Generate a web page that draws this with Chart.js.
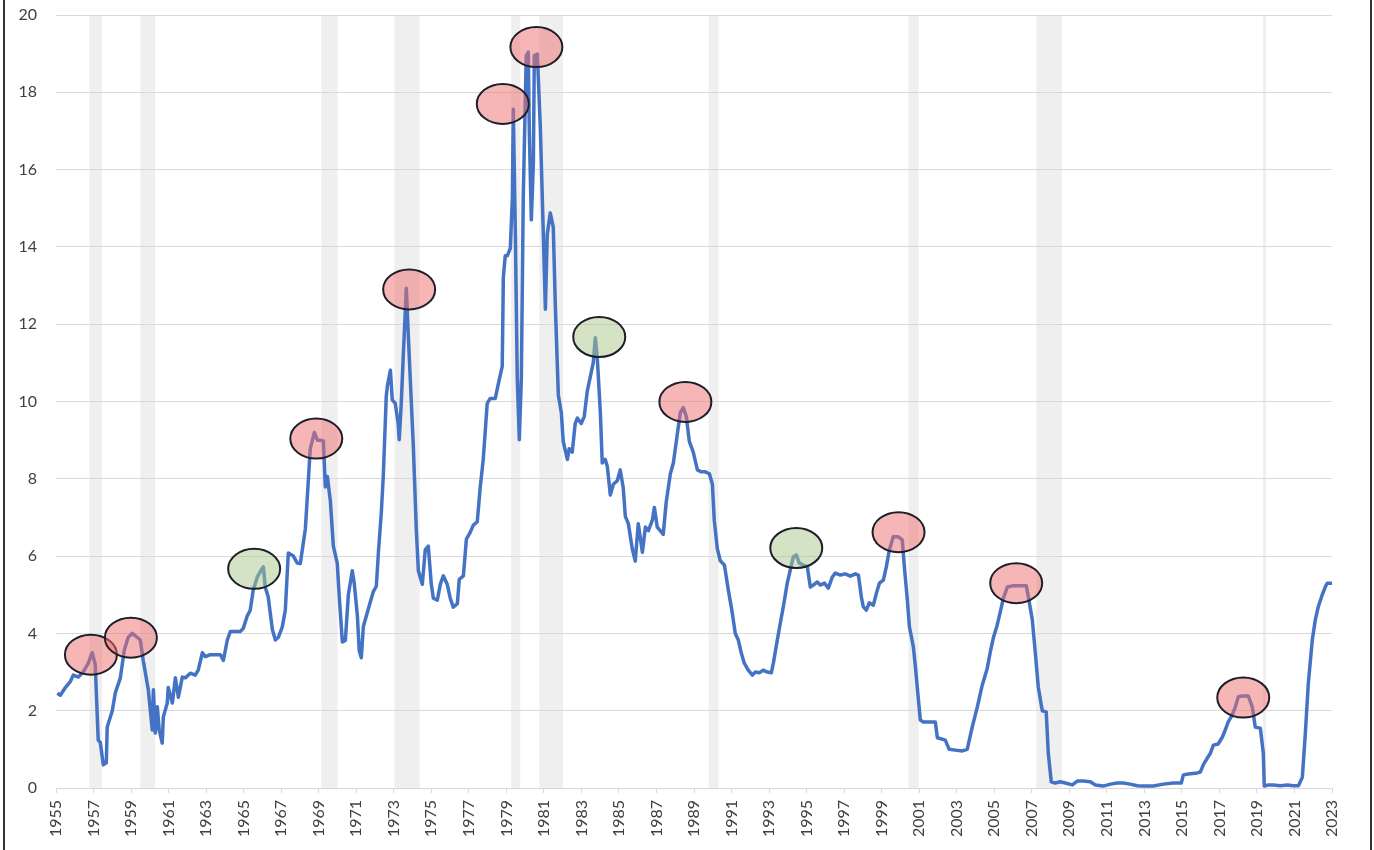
<!DOCTYPE html>
<html>
<head>
<meta charset="utf-8">
<script src="https://cdn.jsdelivr.net/npm/chart.js@4.4.1/dist/chart.umd.min.js"></script>
<style>
    html, body { margin: 0; padding: 0; background: #fff; }
    #wrap { position: relative; width: 1374px; height: 850px; overflow: hidden; }
    #frame {
        position: absolute; left: 3px; top: 0; width: 1365px; height: 850px;
        border-left: 2px solid #333; border-right: 2px solid #333;
        pointer-events: none;
    }
</style>
</head>
<body>
<div id="wrap">
    <canvas id="fedFunds" width="1374" height="850"></canvas>
    <div id="frame"></div>
</div>
<script>
// effective fed funds rate (x = year as drawn on the axis)
const dates = [
    1955.07, 1955.23, 1955.50, 1955.76, 1955.92, 1956.19, 1956.45, 1956.72, 1956.93, 1957.09,
    1957.25, 1957.36, 1957.52, 1957.68, 1957.73, 1958.00, 1958.16, 1958.43, 1958.64, 1958.85,
    1959.07, 1959.33, 1959.49, 1959.65, 1959.92, 1960.13, 1960.19, 1960.29, 1960.40, 1960.50,
    1960.66, 1960.72, 1960.93, 1960.98, 1961.20, 1961.36, 1961.52, 1961.73, 1961.89, 1962.16,
    1962.42, 1962.58, 1962.80, 1962.96, 1963.22, 1963.60, 1963.76, 1963.92, 1964.13, 1964.29,
    1964.56, 1964.82, 1964.98, 1965.19, 1965.35, 1965.51, 1965.73, 1965.89, 1966.05, 1966.15,
    1966.31, 1966.53, 1966.69, 1966.85, 1967.06, 1967.22, 1967.38, 1967.65, 1967.86, 1968.02,
    1968.29, 1968.55, 1968.77, 1968.93, 1969.09, 1969.25, 1969.35, 1969.46, 1969.62, 1969.78,
    1969.99, 1970.10, 1970.26, 1970.42, 1970.58, 1970.79, 1970.90, 1971.06, 1971.16, 1971.27,
    1971.38, 1971.59, 1971.75, 1971.91, 1972.07, 1972.18, 1972.34, 1972.44, 1972.60, 1972.66,
    1972.82, 1972.92, 1973.08, 1973.24, 1973.29, 1973.40, 1973.51, 1973.67, 1973.77, 1973.93,
    1974.04, 1974.20, 1974.31, 1974.52, 1974.68, 1974.84, 1975.00, 1975.11, 1975.32, 1975.48,
    1975.64, 1975.85, 1976.01, 1976.17, 1976.39, 1976.49, 1976.71, 1976.87, 1977.08, 1977.24,
    1977.45, 1977.61, 1977.77, 1977.98, 1978.14, 1978.41, 1978.57, 1978.78, 1978.84, 1978.94,
    1979.05, 1979.21, 1979.32, 1979.37, 1979.48, 1979.58, 1979.69, 1979.80, 1979.90, 1980.06,
    1980.17, 1980.22, 1980.33, 1980.44, 1980.49, 1980.65, 1980.81, 1980.97, 1981.08, 1981.18,
    1981.34, 1981.50, 1981.61, 1981.77, 1981.93, 1982.03, 1982.25, 1982.35, 1982.51, 1982.67,
    1982.78, 1982.99, 1983.15, 1983.31, 1983.47, 1983.63, 1983.74, 1983.85, 1984.01, 1984.11,
    1984.27, 1984.38, 1984.54, 1984.70, 1984.91, 1985.07, 1985.23, 1985.34, 1985.50, 1985.71,
    1985.87, 1986.03, 1986.25, 1986.41, 1986.57, 1986.78, 1986.89, 1987.04, 1987.20, 1987.36,
    1987.52, 1987.74, 1987.90, 1988.11, 1988.27, 1988.43, 1988.59, 1988.75, 1988.96, 1989.18,
    1989.39, 1989.60, 1989.82, 1989.98, 1990.08, 1990.24, 1990.40, 1990.62, 1990.83, 1991.04,
    1991.20, 1991.36, 1991.52, 1991.68, 1991.89, 1992.11, 1992.27, 1992.48, 1992.69, 1992.91,
    1993.12, 1993.23, 1993.44, 1993.60, 1993.76, 1993.97, 1994.13, 1994.29, 1994.45, 1994.61,
    1994.83, 1995.04, 1995.20, 1995.36, 1995.57, 1995.73, 1995.95, 1996.16, 1996.37, 1996.53,
    1996.80, 1997.06, 1997.33, 1997.60, 1997.76, 1997.92, 1998.02, 1998.18, 1998.34, 1998.56,
    1998.72, 1998.88, 1999.09, 1999.25, 1999.41, 1999.62, 1999.89, 2000.10, 2000.21, 2000.37,
    2000.48, 2000.69, 2000.80, 2000.96, 2001.06, 2001.22, 2001.86, 2001.97, 2002.39, 2002.60,
    2002.92, 2003.30, 2003.56, 2003.83, 2004.10, 2004.36, 2004.63, 2004.79, 2004.95, 2005.16,
    2005.32, 2005.48, 2005.70, 2005.96, 2006.71, 2006.82, 2007.03, 2007.19, 2007.35, 2007.56,
    2007.77, 2007.88, 2008.04, 2008.25, 2008.52, 2008.79, 2009.16, 2009.43, 2009.75, 2010.12,
    2010.39, 2010.81, 2011.19, 2011.56, 2011.88, 2012.25, 2012.62, 2012.94, 2013.48, 2014.01,
    2014.54, 2014.97, 2015.08, 2015.34, 2015.82, 2015.98, 2016.14, 2016.36, 2016.52, 2016.68,
    2016.94, 2017.16, 2017.31, 2017.47, 2017.69, 2017.85, 2018.01, 2018.22, 2018.54, 2018.75,
    2018.91, 2019.18, 2019.34, 2019.39, 2019.61, 2019.87, 2020.25, 2020.62, 2020.94, 2021.21,
    2021.42, 2021.58, 2021.74, 2021.95, 2022.11, 2022.27, 2022.48, 2022.64, 2022.75, 2023.00,
];
const rates = [
    2.45, 2.40, 2.60, 2.75, 2.92, 2.87, 3.00, 3.23, 3.50, 3.20,
    1.24, 1.18, 0.60, 0.65, 1.58, 2.00, 2.46, 2.85, 3.57, 3.90,
    4.00, 3.90, 3.83, 3.30, 2.54, 1.50, 2.54, 1.42, 2.10, 1.50,
    1.16, 1.84, 2.20, 2.60, 2.20, 2.85, 2.35, 2.87, 2.85, 2.97,
    2.92, 3.05, 3.50, 3.40, 3.45, 3.45, 3.45, 3.30, 3.83, 4.05,
    4.05, 4.05, 4.13, 4.45, 4.60, 5.12, 5.46, 5.60, 5.72, 5.20,
    4.94, 4.10, 3.83, 3.90, 4.17, 4.60, 6.08, 6.00, 5.82, 5.81,
    6.71, 8.78, 9.20, 9.00, 9.00, 8.98, 7.79, 8.06, 7.43, 6.26,
    5.81, 4.91, 3.78, 3.82, 5.00, 5.62, 5.27, 4.46, 3.55, 3.37,
    4.18, 4.54, 4.81, 5.08, 5.22, 6.08, 7.16, 8.06, 10.13, 10.40,
    10.81, 10.04, 9.95, 9.41, 9.01, 9.95, 11.22, 12.93, 11.76, 10.04,
    8.87, 6.71, 5.62, 5.27, 6.17, 6.26, 5.27, 4.91, 4.86, 5.27,
    5.49, 5.27, 4.91, 4.68, 4.77, 5.40, 5.49, 6.44, 6.62, 6.80,
    6.89, 7.79, 8.51, 9.95, 10.08, 10.08, 10.45, 10.91, 13.22, 13.77,
    13.77, 13.96, 15.25, 17.56, 14.33, 10.63, 9.01, 10.63, 15.25, 18.95,
    19.04, 17.10, 14.70, 16.17, 18.95, 18.99, 17.10, 14.33, 12.39, 14.33,
    14.88, 14.51, 12.48, 10.17, 9.71, 8.97, 8.50, 8.78, 8.69, 9.43,
    9.57, 9.43, 9.61, 10.26, 10.63, 11.00, 11.65, 11.09, 9.71, 8.41,
    8.50, 8.32, 7.58, 7.86, 7.95, 8.23, 7.76, 7.03, 6.84, 6.19,
    5.87, 6.84, 6.10, 6.75, 6.66, 6.93, 7.26, 6.75, 6.66, 6.56,
    7.40, 8.13, 8.41, 9.15, 9.71, 9.84, 9.61, 8.97, 8.69, 8.23,
    8.18, 8.18, 8.13, 7.86, 6.93, 6.20, 5.88, 5.77, 5.12, 4.53,
    4.00, 3.83, 3.49, 3.23, 3.05, 2.92, 3.00, 2.98, 3.05, 3.00,
    2.98, 3.23, 3.83, 4.27, 4.69, 5.30, 5.64, 5.98, 6.03, 5.82,
    5.77, 5.72, 5.20, 5.25, 5.33, 5.25, 5.30, 5.17, 5.46, 5.56,
    5.51, 5.54, 5.48, 5.54, 5.51, 4.94, 4.69, 4.60, 4.79, 4.73,
    5.04, 5.30, 5.38, 5.72, 6.16, 6.50, 6.50, 6.42, 5.72, 4.86,
    4.17, 3.65, 3.13, 2.28, 1.76, 1.71, 1.71, 1.30, 1.24, 1.00,
    0.98, 0.96, 1.00, 1.58, 2.10, 2.66, 3.10, 3.52, 3.88, 4.22,
    4.55, 4.90, 5.20, 5.23, 5.23, 4.94, 4.35, 3.49, 2.60, 2.00,
    1.97, 0.90, 0.16, 0.13, 0.16, 0.13, 0.08, 0.18, 0.18, 0.16,
    0.08, 0.05, 0.10, 0.13, 0.13, 0.10, 0.06, 0.05, 0.05, 0.10,
    0.13, 0.13, 0.34, 0.36, 0.39, 0.41, 0.60, 0.78, 0.90, 1.11,
    1.14, 1.32, 1.50, 1.71, 1.89, 2.10, 2.36, 2.38, 2.38, 2.10,
    1.58, 1.55, 0.90, 0.05, 0.08, 0.08, 0.06, 0.08, 0.06, 0.06,
    0.28, 1.42, 2.72, 3.83, 4.35, 4.69, 5.00, 5.20, 5.30, 5.30,
];

// recession shading (start / end, in axis years)
const recessionStart = [1956.78, 1959.49, 1969.14, 1973.04, 1979.26, 1980.76, 1989.78, 2000.43, 2007.24, 2019.32];
const recessionEnd = [1957.45, 1960.29, 1970.00, 1974.38, 1979.74, 1982.02, 1990.31, 2000.97, 2008.61, 2019.48];

// circled tightening peaks: 'hard' = followed by recession, 'soft' = soft landing
const peakYears = [1956.86, 1958.99, 1965.56, 1968.87, 1973.82, 1978.81, 1980.60, 1983.95, 1988.54, 1994.45, 1999.90, 2006.17, 2018.27];
const peakValues = [3.45, 3.89, 5.67, 9.04, 12.90, 17.70, 19.17, 11.67, 9.99, 6.21, 6.62, 5.30, 2.34];
const peakKinds = ['hard', 'hard', 'soft', 'hard', 'hard', 'hard', 'hard', 'soft', 'hard', 'soft', 'hard', 'hard', 'hard'];

const colors = {
    line: '#4472c4',
    grid: '#d9d9d9',
    text: '#404040',
    band: '#efefef',
    hard: 'rgba(240, 110, 110, 0.5)',
    soft: 'rgba(170, 200, 135, 0.5)',
};

const font = { family: 'Lato', size: 16 };

const shading = {
    id: 'shading',
    beforeDraw(chart) {
        const { ctx, chartArea: area, scales: { x } } = chart;
        ctx.save();
        ctx.fillStyle = colors.band;
        recessionStart.forEach((start, i) => {
            const x0 = x.getPixelForValue(start);
            const x1 = x.getPixelForValue(recessionEnd[i]);
            ctx.fillRect(x0, area.top, Math.max(x1 - x0, 2), area.bottom - area.top);
        });
        ctx.restore();
    },
};

const peakRings = {
    id: 'peakRings',
    afterDatasetsDraw(chart) {
        const { ctx, scales: { x, y } } = chart;
        ctx.save();
        peakYears.forEach((yr, i) => {
            const cx = x.getPixelForValue(yr);
            const cy = y.getPixelForValue(peakValues[i]);
            ctx.beginPath();
            ctx.ellipse(cx, cy, 26, 20, 0, 0, Math.PI * 2);
            ctx.fillStyle = peakKinds[i] === 'soft' ? colors.soft : colors.hard;
            ctx.fill();
            ctx.lineWidth = 2;
            ctx.strokeStyle = '#1e1e2a';
            ctx.stroke();
        });
        ctx.restore();
    },
};

new Chart(document.getElementById('fedFunds'), {
    type: 'line',
    data: {
        datasets: [
            {
                label: 'Fed funds rate',
                data: dates.map((d, i) => ({ x: d, y: rates[i] })),
                borderColor: colors.line,
                borderWidth: 3.5,
                pointRadius: 0,
                tension: 0,
                borderJoinStyle: 'round',
            },
        ],
    },
    options: {
        responsive: false,
        animation: false,
        layout: { padding: { left: 0, right: 42, top: 15, bottom: 0 } },
        plugins: {
            legend: { display: false },
            tooltip: { enabled: false },
        },
        scales: {
            x: {
                type: 'linear',
                min: 1955,
                max: 2023,
                afterFit: (s) => { s.height = 62; },
                ticks: {
                    stepSize: 2,
                    autoSkip: false,
                    minRotation: 90,
                    maxRotation: 90,
                    padding: 7,
                    color: colors.text,
                    font,
                    callback: (v) => String(v),
                },
                grid: { drawOnChartArea: false, drawTicks: true, tickLength: 5, color: colors.grid },
                border: { color: colors.grid },
            },
            y: {
                min: 0,
                max: 20,
                afterFit: (s) => {
                    s.width = 56;
                    // tick padding would otherwise push the plot top down
                    s.paddingTop = 10;
                    s.paddingBottom = 10;
                },
                ticks: { stepSize: 2, padding: 19, color: colors.text, font },
                grid: { color: colors.grid, drawTicks: false },
                border: { display: false },
            },
        },
    },
    plugins: [shading, peakRings],
});
</script>
</body>
</html>
